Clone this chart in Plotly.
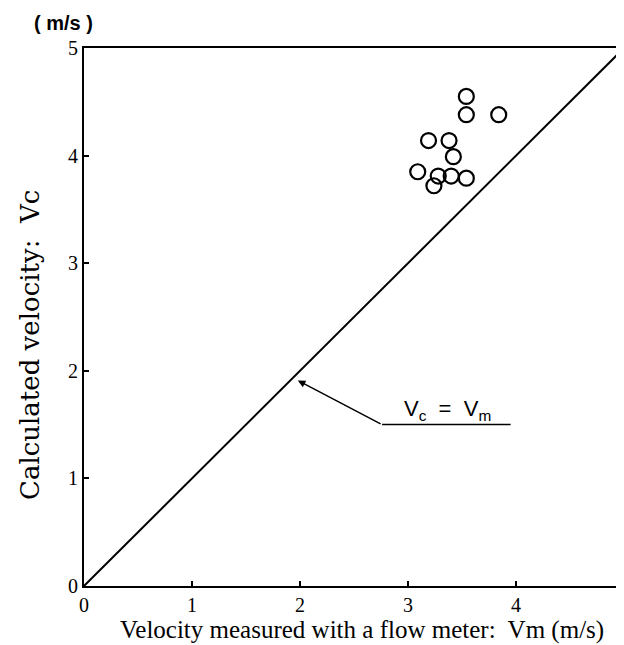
import plotly.graph_objects as go

vm = [3.54, 3.54, 3.84, 3.19, 3.38, 3.42, 3.09, 3.28, 3.40, 3.54, 3.24]
vc = [4.55, 4.38, 4.38, 4.14, 4.14, 3.99, 3.85, 3.81, 3.81, 3.79, 3.72]
ideal = [0, 5]
tick_vals = [0, 1, 2, 3, 4, 5]
tick_text = ["0", "1", "2", "3", "4", "5"]
x_title = "Velocity measured with a flow meter:  Vm (m/s)"
y_title = "Calculated velocity:  Vc"
unit_label = "( m/s )"
line_label = "V<sub>c</sub>  =  V<sub>m</sub>"

fig = go.Figure()
fig.add_trace(go.Scatter(x=ideal, y=ideal, mode="lines",
                         line=dict(color="black", width=2), showlegend=False))
fig.add_trace(go.Scatter(x=vm, y=vc, mode="markers",
                         marker=dict(symbol="circle-open", size=15, color="black",
                                     line=dict(width=2.2, color="black")),
                         showlegend=False))

fig.add_annotation(x=1.98, y=1.91, ax=2.76, ay=1.50, xref="x", yref="y",
                   axref="x", ayref="y", text="", showarrow=True,
                   arrowhead=2, arrowsize=1, arrowwidth=1.5, arrowcolor="black")
fig.add_shape(type="line", x0=2.76, x1=3.95, y0=1.50, y1=1.50,
              line=dict(color="black", width=1.5))
fig.add_annotation(x=3.37, y=1.50, xref="x", yref="y", yanchor="bottom", yshift=-1,
                   text=line_label, showarrow=False,
                   font=dict(family="Liberation Sans", size=22, color="black"))
fig.add_annotation(x=-0.097, y=1.0465, xref="paper", yref="paper", yanchor="middle",
                   xanchor="left", text="<b>" + unit_label + "</b>", showarrow=False,
                   font=dict(family="Liberation Sans", size=20, color="black"))
fig.add_annotation(x=0.514, y=-0.0818, xref="paper", yref="paper", yanchor="middle",
                   xanchor="center", text=x_title, showarrow=False,
                   font=dict(family="Liberation Serif", size=25, color="black"))
fig.add_annotation(x=-0.1, y=0.448, xref="paper", yref="paper", yanchor="middle",
                   xanchor="center", text=y_title, showarrow=False, textangle=-90,
                   font=dict(family="DejaVu Serif", size=26, color="black"))

axis_common = dict(range=[0, 5], tickvals=tick_vals, ticktext=tick_text,
                   showgrid=False, zeroline=False, showline=True, linecolor="black",
                   linewidth=2, ticks="inside", ticklen=5,
                   tickcolor="black", tickwidth=2,
                   tickfont=dict(family="Liberation Serif", size=20, color="black"))

fig.update_xaxes(**axis_common, mirror=True)
fig.update_yaxes(**axis_common, mirror="ticks")

fig.update_layout(width=624, height=645, plot_bgcolor="white", paper_bgcolor="white",
                  margin=dict(l=76, r=3, t=40, b=67))

fig.write_html("out.html")
